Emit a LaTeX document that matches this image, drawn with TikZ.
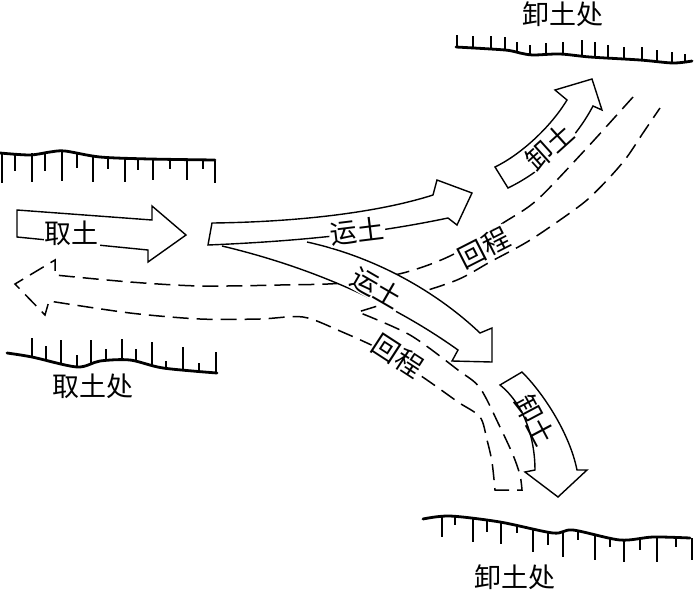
\documentclass[tikz,border=0pt]{standalone}
\usepackage{fontspec}
\newfontfamily\cjk{Noto Sans CJK SC}
\begin{document}
\begin{tikzpicture}[x=1pt,y=-1pt,
  arr/.style={draw=black, line width=1.4pt, fill=white, line join=miter},
  arrline/.style={draw=black, line width=1.4pt, line join=miter},
  ret/.style={draw=black, line width=1.5pt, dash pattern=on 16pt off 8pt},
  ground/.style={line width=2.8pt, line cap=round},
  tick/.style={line width=1.2pt},
  lbl/.style={font=\cjk\fontsize{27}{27}\selectfont, inner sep=1pt, fill=white},
  site/.style={font=\cjk\fontsize{27}{27}\selectfont, inner sep=0pt}]
\useasboundingbox (0,0) rectangle (694,590);

% ---- ground lines ----
\draw[ground] plot[smooth] coordinates {(0,153) (30,155) (50,152) (65,151) (100,157) (150,159) (215,160)};
\foreach \x/\a/\b in {2/153/183,15/153/171,32/153/182,45/153/171,62/152/181,77/154/168,93/156/182,108/157/169,125/158/182,138/158/170,153/159/180,170/160/169,187/160/180,203/160/169,215/161/183}
  \draw[tick] (\x,\a) -- (\x,\b);

\draw[ground] plot[smooth] coordinates {(456,47) (505,50) (520,53) (533,55) (560,54) (590,57) (640,60) (673,63) (692,61)};
\foreach \x/\a/\b in {457/47/35,473/48/36,491/49/36,505/50/37,517/52/42,530/54/45,546/55/43,563/55/42,582/56/40,595/57/42,608/58/45,624/59/47,642/60/47,657/61/50,672/62/52,685/62/54}
  \draw[tick] (\x,\a) -- (\x,\b);

\draw[ground] plot[smooth] coordinates {(7,353) (32,357) (77,367) (100,361) (130,360) (163,368) (217,373)};
\foreach \x/\a/\b in {32/357/338,46/360/346,61/363/340,77/367/355,91/363/340,106/360/349,122/360/339,136/362/349,152/366/342,166/368/361,183/370/347,199/371/363,216/373/352}
  \draw[tick] (\x,\a) -- (\x,\b);

\draw[ground] plot[smooth] coordinates {(423,519) (450,516) (500,522) (553,533) (573,530) (620,540) (653,537) (690,538)};
\foreach \x/\a/\b in {442/517/537,455/516/525,473/518/542,487/521/532,501/522/544,517/525/533,533/529/552,548/532/545,563/532/557,578/531/540,595/535/560,610/538/547,624/540/562,640/539/550,657/537/562,676/537/547,692/538/560}
  \draw[tick] (\x,\a) -- (\x,\b);

% ---- return routes (dashed) ----
\draw[ret] plot[smooth] coordinates {(633,97) (585,150) (537,200) (503,223) (452,255) (403,273) (343,283) (280,285) (200,286) (130,282) (55,275)}
  -- (55,260) -- (15,284) -- (45,315) -- (49,301)
  -- plot[smooth] coordinates {(49,301) (130,313) (200,319) (260,319) (303,317) (340,331) (385,352) (427,380) (458,402) (480,417) (487,440) (492,462) (495,490)}
  -- (522,490)
  -- plot[smooth] coordinates {(522,490) (520,475) (513,455) (500,427) (480,388) (458,370) (410,335) (358,312)}
  -- plot[smooth] coordinates {(358,312) (403,298) (457,280) (490,262) (527,242) (560,220) (587,200) (610,177) (627,157) (643,133) (660,108)};

% ---- haul arrows ----
\draw[arr] (17,210) -- (152,220) -- (152,206) -- (186,235) -- (148,262) -- (148,250) -- (17,237) -- cycle;

% lower branch
\fill[white] (307,242) .. controls (380,258) and (440,295) .. (480,333) -- (492,328) -- (492,362) -- (452,361) -- (458,350)
  .. controls (395,305) and (315,268) .. (222,246) -- cycle;
\draw[arrline] (307,242) .. controls (380,258) and (440,295) .. (480,333) -- (492,328) -- (492,362) -- (452,361) -- (458,350)
  .. controls (395,305) and (315,268) .. (222,246);

% upper branch
\draw[arr] (208,245) -- (212,223) .. controls (300,222) and (380,212) .. (433,195) -- (437,180) -- (472,193) -- (457,225) -- (448,218)
  .. controls (400,228) and (330,240) .. (208,245) -- cycle;

% dumping arrows
\draw[arr] (495,167) .. controls (520,155) and (550,128) .. (567,100) -- (555,90) -- (592,79) -- (602,110) -- (593,106)
  .. controls (575,140) and (545,170) .. (508,188) -- cycle;
\draw[arr] (500,385) -- (522,372) .. controls (545,395) and (570,435) .. (577,470) -- (587,470) -- (558,497) -- (525,472) -- (535,470)
  .. controls (535,440) and (525,405) .. (500,385) -- cycle;

% ---- labels ----
\node[lbl] (qt) at (72,233) {取土};
\node[lbl, rotate=7] (yt1) at (357,231) {运土};
\node[lbl, rotate=-30] (yt2) at (377,288) {运土};
\node[lbl, rotate=27] (hc1) at (484,248) {回程};
\node[lbl, rotate=-33] (hc2) at (398,356) {回程};
\node[lbl, rotate=42] (xt1) at (550,147) {卸土};
\node[lbl, rotate=-62, fill=none] (xt2) at (535,420) {卸土};

\node[site] (s1) at (563,14) {卸土处};
\node[site] (s2) at (93,386) {取土处};
\node[site] (s3) at (515,577) {卸土处};
\end{tikzpicture}
\end{document}
